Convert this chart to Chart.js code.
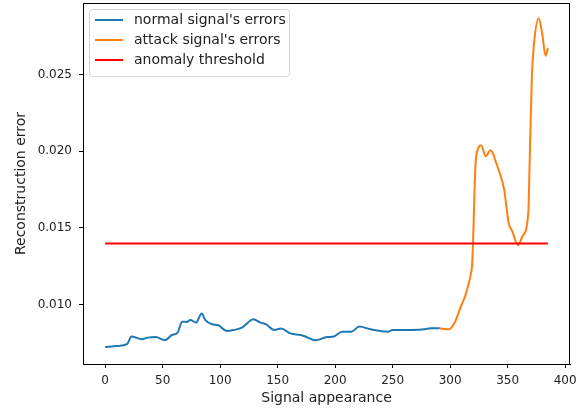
<!DOCTYPE html>
<html>
<head>
<meta charset="utf-8">
<script src="https://cdn.jsdelivr.net/npm/chart.js@4/dist/chart.umd.min.js"></script>
<style>
  html, body { margin: 0; padding: 0; background: #fff; }
  #wrap { width: 583px; height: 411px; }
</style>
</head>
<body>
<div id="wrap"><canvas id="grafico" width="583" height="411"></canvas></div>
<script>
// dados
const normalX = [0, 10, 19, 23, 32, 37, 44, 52, 58, 63, 67, 71, 74, 79, 84, 87, 93, 98, 106, 112, 119, 129, 135, 140, 147, 153, 161, 170, 173, 183, 193, 199, 206, 214, 221, 231, 246, 250, 266, 278, 283, 291];
const normalY = [0.00724, 0.00730, 0.00742, 0.00792, 0.00774, 0.00785, 0.00789, 0.00768, 0.00802, 0.00818, 0.00889, 0.00887, 0.00900, 0.00883, 0.00943, 0.00900, 0.00872, 0.00867, 0.00828, 0.00835, 0.00850, 0.00904, 0.00883, 0.00872, 0.00835, 0.00844, 0.00813, 0.00802, 0.00796, 0.00768, 0.00789, 0.00792, 0.00824, 0.00824, 0.00857, 0.00839, 0.00824, 0.00835, 0.00835, 0.00839, 0.00846, 0.00846];

const attackX = [291, 299, 304, 309, 314, 318, 319, 320, 321, 322, 324, 327, 331, 335, 337, 340, 343, 347, 351, 354, 359, 363, 368, 369, 371, 373, 377, 380, 383, 385];
const attackY = [0.00846, 0.00839, 0.00883, 0.00980, 0.01078, 0.01197, 0.01250, 0.01420, 0.01686, 0.01902, 0.02011, 0.02039, 0.01968, 0.02007, 0.01990, 0.01925, 0.01860, 0.01751, 0.01530, 0.01479, 0.01388, 0.01447, 0.01599, 0.01880, 0.02467, 0.02705, 0.02868, 0.02771, 0.02623, 0.02673];

const thresholdX = [0, 385];
const thresholdY = [0.01398, 0.01398];

const xTicks = [0, 50, 100, 150, 200, 250, 300, 350, 400];
const yTicks = [0.010, 0.015, 0.020, 0.025];

const labels = ["normal signal's errors", "attack signal's errors", "anomaly threshold"];
const cores = ['#1f77b4', '#ff7f0e', '#ff0000'];

function pontos(xs, ys) {
    return xs.map((x, i) => ({ x: x, y: ys[i] }));
}

const fonteTicks = { family: 'DejaVu Sans', size: 12 };
const fonteTitulo = { family: 'DejaVu Sans', size: 14 };

// legenda estilo matplotlib dentro da area
const legendaDentro = {
    id: 'legendaDentro',
    afterDraw: function(chart) {
        const ctx = chart.ctx;
        const area = chart.chartArea;
        const x0 = area.left + 6, y0 = area.top + 6;
        const w = 200, h = 67;
        ctx.save();
        ctx.beginPath();
        ctx.roundRect(x0 + 0.5, y0 + 0.5, w, h, 3);
        ctx.fillStyle = 'rgba(255,255,255,0.85)';
        ctx.fill();
        ctx.strokeStyle = '#d6d6d6';
        ctx.lineWidth = 1;
        ctx.stroke();
        ctx.font = '14px "DejaVu Sans"';
        ctx.textBaseline = 'middle';
        chart.data.datasets.forEach(function(ds, i) {
            const yy = y0 + 11 + i * 20;
            ctx.strokeStyle = ds.borderColor;
            ctx.lineWidth = 2;
            ctx.beginPath();
            ctx.moveTo(x0 + 6, yy);
            ctx.lineTo(x0 + 34, yy);
            ctx.stroke();
            ctx.fillStyle = '#222';
            ctx.fillText(ds.label, x0 + 45, yy);
        });
        // moldura dos eixos
        ctx.strokeStyle = '#000';
        ctx.lineWidth = 1;
        ctx.strokeRect(area.left + 0.5, area.top + 0.5, area.right - area.left - 1, area.bottom - area.top);
        ctx.restore();
    }
};

const ctx = document.getElementById('grafico').getContext('2d');
new Chart(ctx, {
    type: 'line',
    data: {
        datasets: [
            { label: labels[0], data: pontos(normalX, normalY), borderColor: cores[0], order: 3 },
            { label: labels[1], data: pontos(attackX, attackY), borderColor: cores[1], order: 2 },
            { label: labels[2], data: pontos(thresholdX, thresholdY), borderColor: cores[2], order: 1 }
        ]
    },
    options: {
        responsive: false,
        animation: false,
        layout: { padding: { top: 3, right: 13, left: 0, bottom: 0 } },
        elements: {
            point: { radius: 0 },
            line: { borderWidth: 2, cubicInterpolationMode: 'monotone', fill: false }
        },
        plugins: {
            legend: { display: false },
            tooltip: { enabled: false }
        },
        scales: {
            x: {
                type: 'linear',
                min: -19.25,
                max: 404.25,
                afterBuildTicks: function(scale) { scale.ticks = xTicks.map(v => ({ value: v })); },
                afterFit: function(scale) { scale.height = 47; scale.paddingLeft = 0; scale.paddingRight = 0; },
                grid: { display: true, drawOnChartArea: false, drawTicks: true, tickLength: 4, tickColor: '#000' },
                border: { color: '#000' },
                ticks: { color: '#222', font: fonteTicks, padding: 6, maxRotation: 0 },
                title: { display: true, text: 'Signal appearance', color: '#222', font: fonteTitulo, padding: { top: 0, bottom: 4 } }
            },
            y: {
                min: 0.00613,
                max: 0.02967,
                afterBuildTicks: function(scale) { scale.ticks = yTicks.map(v => ({ value: v })); },
                afterFit: function(scale) { scale.width = 83; scale.paddingTop = 0; scale.paddingBottom = 0; },
                grid: { display: true, drawOnChartArea: false, drawTicks: true, tickLength: 4, tickColor: '#000' },
                border: { color: '#000' },
                ticks: { color: '#222', font: fonteTicks, padding: 7, callback: v => v.toFixed(3) },
                title: { display: true, text: 'Reconstruction error', color: '#222', font: fonteTitulo, padding: { top: 13, bottom: 0 } }
            }
        }
    },
    plugins: [legendaDentro]
});
</script>
</body>
</html>
